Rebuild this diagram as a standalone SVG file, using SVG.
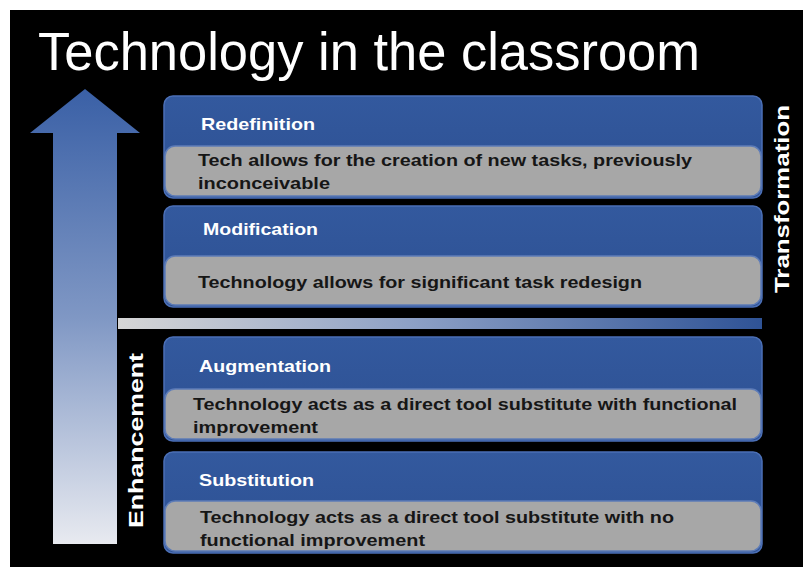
<svg xmlns="http://www.w3.org/2000/svg" width="803" height="567" viewBox="0 0 803 567">
<defs>
<linearGradient id="arrowGrad" x1="0" y1="0" x2="0" y2="1">
<stop offset="0" stop-color="#3a60a6"/>
<stop offset="0.5" stop-color="#7f97c4"/>
<stop offset="1" stop-color="#e8eaf0"/>
</linearGradient>
<linearGradient id="barGrad" x1="0" y1="0" x2="1" y2="0">
<stop offset="0" stop-color="#d6d6d6"/>
<stop offset="0.45" stop-color="#8ea1c6"/>
<stop offset="1" stop-color="#2f5396"/>
</linearGradient>
<linearGradient id="blueGrad" x1="0" y1="0" x2="0" y2="1">
<stop offset="0" stop-color="#33599e"/>
<stop offset="1" stop-color="#2d5092"/>
</linearGradient>
</defs>
<style>
.outer{fill:url(#blueGrad);stroke:#4b6fb6;stroke-width:1.5}
.inner{fill:#a7a7a7;stroke:#5d7cb8;stroke-width:1.5}
.lbl{font-family:"Liberation Sans",Arial,sans-serif;font-weight:bold;font-size:17px;fill:#ffffff}
.desc{font-family:"Liberation Sans",Arial,sans-serif;font-weight:bold;font-size:17px;fill:#161616}
.side{font-family:"Liberation Sans",Arial,sans-serif;font-weight:bold;fill:#ffffff}
</style>
<rect x="0" y="0" width="803" height="567" fill="#ffffff"/>
<rect x="10" y="10" width="793" height="557" fill="#000000"/>
<text x="38" y="70" font-family="'Liberation Sans',Arial,sans-serif" font-size="54" fill="#ffffff" textLength="662" lengthAdjust="spacingAndGlyphs">Technology in the classroom</text>
<g id="arrow">
<polygon points="85,89 140,133 117,133 117,544 53,544 53,133 30,133" fill="url(#arrowGrad)"/>
</g>
<g id="separator">
<rect x="118" y="318" width="644" height="11" fill="url(#barGrad)"/>
</g>
<g id="redefinition">
<rect class="outer" x="164" y="96" width="598" height="102" rx="9"/>
<rect class="inner" x="165" y="146" width="596" height="50" rx="10"/>
<text class="lbl" x="201" y="130" textLength="114" lengthAdjust="spacingAndGlyphs">Redefinition</text>
<text class="desc" x="198" y="166" textLength="494" lengthAdjust="spacingAndGlyphs">Tech allows for the creation of new tasks, previously</text>
<text class="desc" x="198" y="189" textLength="132" lengthAdjust="spacingAndGlyphs">inconceivable</text>
</g>
<g id="modification">
<rect class="outer" x="164" y="206" width="598" height="101" rx="9"/>
<rect class="inner" x="165" y="256" width="596" height="49" rx="10"/>
<text class="lbl" x="203" y="235" textLength="115" lengthAdjust="spacingAndGlyphs">Modification</text>
<text class="desc" x="198" y="288" textLength="444" lengthAdjust="spacingAndGlyphs">Technology allows for significant task redesign</text>
</g>
<g id="augmentation">
<rect class="outer" x="164" y="337" width="598" height="104" rx="9"/>
<rect class="inner" x="165" y="389" width="596" height="50" rx="10"/>
<text class="lbl" x="199" y="372" textLength="132" lengthAdjust="spacingAndGlyphs">Augmentation</text>
<text class="desc" x="193" y="410" textLength="544" lengthAdjust="spacingAndGlyphs">Technology acts as a direct tool substitute with functional</text>
<text class="desc" x="193" y="433" textLength="125" lengthAdjust="spacingAndGlyphs">improvement</text>
</g>
<g id="substitution">
<rect class="outer" x="164" y="452" width="598" height="101" rx="9"/>
<rect class="inner" x="165" y="501" width="596" height="50" rx="10"/>
<text class="lbl" x="199" y="486" textLength="115" lengthAdjust="spacingAndGlyphs">Substitution</text>
<text class="desc" x="200" y="523" textLength="474" lengthAdjust="spacingAndGlyphs">Technology acts as a direct tool substitute with no</text>
<text class="desc" x="200" y="546" textLength="225" lengthAdjust="spacingAndGlyphs">functional improvement</text>
</g>
<g id="enhancement">
<text class="side" font-size="21" transform="translate(143,528) rotate(-90)" textLength="175" lengthAdjust="spacingAndGlyphs">Enhancement</text>
</g>
<g id="transformation">
<text class="side" font-size="20" transform="translate(789,293) rotate(-90)" textLength="188" lengthAdjust="spacingAndGlyphs">Transformation</text>
</g>
</svg>
